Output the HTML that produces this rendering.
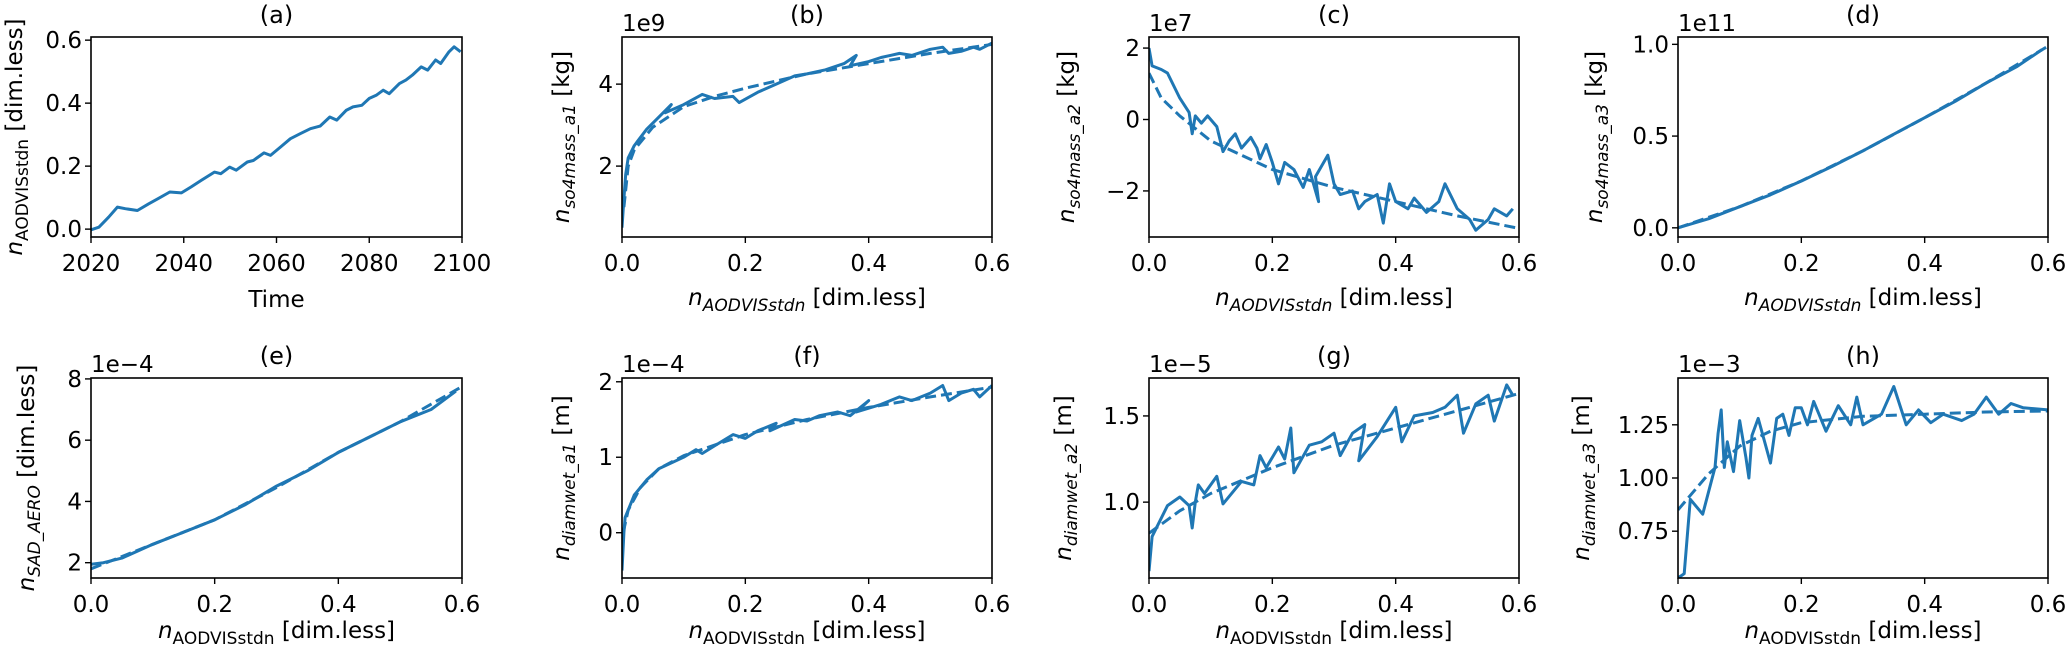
<!DOCTYPE html>
<html><head><meta charset="utf-8">
<style>
html,body{margin:0;padding:0;background:#fff;}
svg text{font-family:"DejaVu Sans","Liberation Sans",sans-serif;fill:#000;}
</style></head>
<body>
<svg id="fig" width="2067" height="652" viewBox="0 0 2067 652" xmlns="http://www.w3.org/2000/svg"></svg>
<script>
// ---------- DATA ----------
const aYears=[2020,2021.7,2023.8,2025.7,2027.4,2030,2032.4,2034.5,2037,2039.5,2041.6,2043.8,2046.6,2048,2049.9,2051.3,2053.7,2055,2057.3,2058.7,2060.9,2063,2065.1,2067.3,2069.4,2071.5,2073,2075,2076.5,2078.4,2080,2081.5,2083,2084.3,2086.5,2087.9,2089.3,2091.2,2092.6,2094.3,2095.4,2097.2,2098.3,2099.7];
const aVals=[-0.002,0.006,0.038,0.07,0.065,0.059,0.08,0.097,0.118,0.115,0.134,0.155,0.181,0.176,0.197,0.187,0.213,0.218,0.242,0.234,0.261,0.287,0.303,0.319,0.327,0.356,0.346,0.377,0.388,0.393,0.415,0.425,0.441,0.430,0.462,0.473,0.489,0.515,0.505,0.537,0.526,0.563,0.579,0.563];

const bSolidX=[0,0.003,0.006,0.01,0.02,0.04,0.06,0.08,0.07,0.1,0.13,0.15,0.18,0.19,0.22,0.25,0.28,0.3,0.33,0.36,0.38,0.37,0.4,0.42,0.45,0.47,0.5,0.52,0.53,0.55,0.57,0.58,0.6];
const bSolidY=[0.5,1.2,1.8,2.2,2.5,2.9,3.2,3.5,3.3,3.5,3.75,3.65,3.7,3.55,3.8,4.0,4.2,4.25,4.35,4.5,4.7,4.45,4.55,4.65,4.75,4.7,4.85,4.9,4.75,4.8,4.9,4.85,5.0];
const bFitX=[0.003,0.01,0.02,0.05,0.1,0.15,0.2,0.3,0.4,0.5,0.6];
const bFitY=[1.0,2.0,2.4,2.95,3.45,3.7,3.9,4.25,4.5,4.75,4.97];

const cSolidX=[0,0.005,0.02,0.03,0.05,0.065,0.07,0.075,0.085,0.095,0.11,0.12,0.13,0.14,0.15,0.165,0.175,0.18,0.19,0.2,0.21,0.22,0.235,0.25,0.26,0.275,0.27,0.29,0.3,0.31,0.33,0.34,0.35,0.37,0.38,0.39,0.4,0.42,0.43,0.45,0.47,0.48,0.5,0.52,0.53,0.55,0.56,0.58,0.59];
const cSolidY=[2.0,1.5,1.4,1.3,0.6,0.2,-0.4,0.1,-0.1,0.1,-0.2,-0.9,-0.6,-0.4,-0.8,-0.5,-0.8,-1.1,-0.7,-1.2,-1.8,-1.2,-1.4,-1.9,-1.4,-2.3,-1.6,-1.0,-1.8,-2.1,-2.0,-2.5,-2.3,-2.1,-2.9,-1.8,-2.3,-2.5,-2.2,-2.6,-2.3,-1.8,-2.5,-2.8,-3.1,-2.8,-2.5,-2.7,-2.5];
const cFitX=[0,0.02,0.05,0.1,0.15,0.2,0.3,0.4,0.5,0.6];
const cFitY=[1.3,0.6,0.1,-0.6,-1.0,-1.4,-1.9,-2.3,-2.7,-3.05];

const dSolidX=[0,0.05,0.1,0.15,0.2,0.25,0.3,0.35,0.4,0.45,0.5,0.55,0.59];
const dSolidY=[0,0.05,0.115,0.18,0.255,0.335,0.42,0.51,0.6,0.69,0.79,0.88,0.97];
const dFitX=[0,0.1,0.2,0.3,0.4,0.5,0.6];
const dFitY=[0,0.115,0.255,0.42,0.6,0.79,0.99];

const eSolidX=[0,0.02,0.05,0.1,0.15,0.2,0.25,0.3,0.35,0.4,0.45,0.5,0.55,0.59];
const eSolidY=[1.95,2.0,2.15,2.6,3.0,3.4,3.9,4.5,5.0,5.6,6.1,6.6,7.0,7.6];
const eFitX=[0,0.1,0.2,0.3,0.4,0.5,0.6];
const eFitY=[1.8,2.6,3.4,4.45,5.6,6.6,7.75];

const fSolidX=[0,0.003,0.005,0.02,0.04,0.06,0.1,0.12,0.13,0.15,0.18,0.2,0.22,0.25,0.24,0.28,0.3,0.32,0.35,0.37,0.4,0.38,0.42,0.45,0.47,0.5,0.52,0.53,0.55,0.57,0.58,0.6];
const fSolidY=[-0.5,0.0,0.2,0.5,0.7,0.85,1.0,1.1,1.05,1.15,1.3,1.25,1.35,1.45,1.35,1.5,1.48,1.55,1.6,1.55,1.75,1.6,1.7,1.8,1.75,1.85,1.95,1.75,1.85,1.9,1.8,1.95];
const fFitX=[0.002,0.01,0.03,0.06,0.1,0.2,0.3,0.4,0.5,0.6];
const fFitY=[0.0,0.3,0.6,0.85,1.02,1.3,1.5,1.66,1.8,1.93];

const gSolidX=[0,0.005,0.03,0.05,0.065,0.07,0.075,0.08,0.09,0.11,0.12,0.15,0.17,0.18,0.19,0.21,0.22,0.23,0.235,0.26,0.28,0.3,0.31,0.33,0.35,0.34,0.37,0.4,0.41,0.43,0.46,0.48,0.5,0.51,0.53,0.55,0.56,0.58,0.59];
const gSolidY=[0.6,0.8,0.98,1.03,0.98,0.85,1.0,1.1,1.05,1.15,0.99,1.12,1.1,1.27,1.2,1.32,1.25,1.43,1.17,1.33,1.35,1.4,1.27,1.4,1.45,1.24,1.38,1.55,1.35,1.5,1.52,1.55,1.62,1.4,1.57,1.62,1.47,1.68,1.62];
const gFitX=[0,0.05,0.1,0.2,0.3,0.4,0.5,0.6];
const gFitY=[0.82,0.95,1.05,1.2,1.33,1.43,1.53,1.63];

const hSolidX=[0,0.01,0.02,0.04,0.06,0.065,0.07,0.075,0.08,0.09,0.1,0.11,0.115,0.12,0.13,0.15,0.16,0.17,0.18,0.19,0.2,0.21,0.22,0.24,0.26,0.28,0.29,0.3,0.33,0.35,0.37,0.39,0.41,0.43,0.46,0.48,0.5,0.52,0.54,0.56,0.6];
const hSolidY=[0.53,0.55,0.9,0.83,1.05,1.21,1.32,1.05,1.17,1.03,1.27,1.1,1.0,1.2,1.28,1.07,1.28,1.3,1.2,1.33,1.33,1.25,1.36,1.22,1.34,1.25,1.38,1.25,1.3,1.43,1.25,1.32,1.26,1.3,1.27,1.3,1.38,1.3,1.35,1.33,1.32];
const hFitX=[0,0.05,0.1,0.15,0.2,0.3,0.4,0.5,0.6];
const hFitY=[0.85,1.02,1.15,1.22,1.26,1.29,1.3,1.31,1.315];

const xTicksN=[0,0.2,0.4,0.6];
const xTickLabelsN=["0.0","0.2","0.4","0.6"];
const xTicksA=[2020,2040,2060,2080,2100];
const xTickLabelsA=["2020","2040","2060","2080","2100"];
const yTicksA=[0,0.2,0.4,0.6]; const yTickLabelsA=["0.0","0.2","0.4","0.6"];
const yTicksB=[2,4]; const yTickLabelsB=["2","4"];
const yTicksC=[-2,0,2]; const yTickLabelsC=["\u22122","0","2"];
const yTicksD=[0,0.5,1.0]; const yTickLabelsD=["0.0","0.5","1.0"];
const yTicksE=[2,4,6,8]; const yTickLabelsE=["2","4","6","8"];
const yTicksF=[0,1,2]; const yTickLabelsF=["0","1","2"];
const yTicksG=[1.0,1.5]; const yTickLabelsG=["1.0","1.5"];
const yTicksH=[0.75,1.00,1.25]; const yTickLabelsH=["0.75","1.00","1.25"];

// ---------- LAYOUT ----------
const NS="http://www.w3.org/2000/svg";
const svg=document.getElementById('fig');
const C="#1f77b4";
function mk(tag,attrs,parent){const e=document.createElementNS(NS,tag);for(const k in attrs)e.setAttribute(k,attrs[k]);(parent||svg).appendChild(e);return e;}

const panels=[
 {id:'a',L:91,T:37,R:462,B:237,xmin:2020,xmax:2100,ymin:-0.025,ymax:0.61,xt:xTicksA,xtl:xTickLabelsA,yt:yTicksA,ytl:yTickLabelsA,off:'',ylx:14,ysub:'AODVISstdn',ysubIt:false,yunit:' [dim.less]',xlab:'time',xlo:70,series:[[aYears,aVals,false]]},
 {id:'b',L:622,T:37,R:992,B:237,xmin:0,xmax:0.6,ymin:0.27,ymax:5.15,xt:xTicksN,xtl:xTickLabelsN,yt:yTicksB,ytl:yTickLabelsB,off:'1e9',ylx:561,ysub:'so4mass_a1',ysubIt:true,yunit:' [kg]',xlab:'it',xlo:68,series:[[bSolidX,bSolidY,false],[bFitX,bFitY,true]]},
 {id:'c',L:1149,T:37,R:1519,B:237,xmin:0,xmax:0.6,ymin:-3.29,ymax:2.31,xt:xTicksN,xtl:xTickLabelsN,yt:yTicksC,ytl:yTickLabelsC,off:'1e7',ylx:1066,ysub:'so4mass_a2',ysubIt:true,yunit:' [kg]',xlab:'it',xlo:68,series:[[cSolidX,cSolidY,false],[cFitX,cFitY,true]]},
 {id:'d',L:1678,T:37,R:2048,B:237,xmin:0,xmax:0.6,ymin:-0.05,ymax:1.04,xt:xTicksN,xtl:xTickLabelsN,yt:yTicksD,ytl:yTickLabelsD,off:'1e11',ylx:1594,ysub:'so4mass_a3',ysubIt:true,yunit:' [kg]',xlab:'it',xlo:68,series:[[dSolidX,dSolidY,false],[dFitX,dFitY,true]]},
 {id:'e',L:91,T:378,R:462,B:578,xmin:0,xmax:0.6,ymin:1.5,ymax:8.03,xt:xTicksN,xtl:xTickLabelsN,yt:yTicksE,ytl:yTickLabelsE,off:'1e\u22124',ylx:26,ysub:'SAD_AERO',ysubIt:true,yunit:' [dim.less]',xlab:'up',xlo:60,series:[[eSolidX,eSolidY,false],[eFitX,eFitY,true]]},
 {id:'f',L:622,T:378,R:992,B:578,xmin:0,xmax:0.6,ymin:-0.6,ymax:2.05,xt:xTicksN,xtl:xTickLabelsN,yt:yTicksF,ytl:yTickLabelsF,off:'1e\u22124',ylx:561,ysub:'diamwet_a1',ysubIt:true,yunit:' [m]',xlab:'up',xlo:60,series:[[fSolidX,fSolidY,false],[fFitX,fFitY,true]]},
 {id:'g',L:1149,T:378,R:1519,B:578,xmin:0,xmax:0.6,ymin:0.56,ymax:1.72,xt:xTicksN,xtl:xTickLabelsN,yt:yTicksG,ytl:yTickLabelsG,off:'1e\u22125',ylx:1063,ysub:'diamwet_a2',ysubIt:true,yunit:' [m]',xlab:'up',xlo:60,series:[[gSolidX,gSolidY,false],[gFitX,gFitY,true]]},
 {id:'h',L:1678,T:378,R:2048,B:578,xmin:0,xmax:0.6,ymin:0.53,ymax:1.47,xt:xTicksN,xtl:xTickLabelsN,yt:yTicksH,ytl:yTickLabelsH,off:'1e\u22123',ylx:1581,ysub:'diamwet_a3',ysubIt:true,yunit:' [m]',xlab:'up',xlo:60,series:[[hSolidX,hSolidY,false],[hFitX,hFitY,true]]}
];

panels.forEach(p=>{
  const g=mk('g',{});
  
  
  const sx=v=>p.L+(v-p.xmin)/(p.xmax-p.xmin)*(p.R-p.L);
  const sy=v=>p.B-(v-p.ymin)/(p.ymax-p.ymin)*(p.B-p.T);
  const cp=mk('clipPath',{id:'clip-'+p.id},g);
  mk('rect',{x:p.L,y:p.T,width:p.R-p.L,height:p.B-p.T},cp);
  p.series.forEach((s,i)=>{
    const xs=s[0],ys=s[1];
    const d=xs.map((x,k)=>(k?'L':'M')+sx(x).toFixed(1)+','+sy(ys[k]).toFixed(1)).join('');
    const path=mk('path',{d:d,fill:'none',stroke:C,'stroke-width':3,'stroke-linejoin':'round','clip-path':'url(#clip-'+p.id+')'},g);
    if(s[2])path.setAttribute('stroke-dasharray','11,5');
    
    
  });
  const fr=mk('rect',{x:p.L,y:p.T,width:p.R-p.L,height:p.B-p.T,fill:'none',stroke:'#000','stroke-width':1.6},g);
  
  
  p.xt.forEach((v,k)=>{
    const x=sx(v);
    mk('line',{x1:x,x2:x,y1:p.B,y2:p.B+6,stroke:'#000','stroke-width':1.4},g);
    const t=mk('text',{x:x,y:p.B+34,'font-size':23,'text-anchor':'middle'},g);
    t.textContent=p.xtl[k];
    
    
  });
  p.yt.forEach((v,k)=>{
    const y=sy(v);
    mk('line',{x1:p.L-6,x2:p.L,y1:y,y2:y,stroke:'#000','stroke-width':1.4},g);
    const t=mk('text',{x:p.L-9,y:y+8,'font-size':23,'text-anchor':'end'},g);
    t.textContent=p.ytl[k];
    
    
  });
  const tt=mk('text',{x:(p.L+p.R)/2,y:p.T-14,'font-size':24,'text-anchor':'middle'},g);
  tt.textContent='('+p.id+')';
  
  
  if(p.off){
    const o=mk('text',{x:p.L,y:p.T-6,'font-size':23},g);
    o.textContent=p.off;
    
    
  }
  const xl=mk('text',{x:(p.L+p.R)/2,y:p.B+p.xlo,'font-size':23,'text-anchor':'middle'},g);
  
  
  if(p.xlab==='time'){xl.textContent='Time';}
  else{
    xl.innerHTML='<tspan font-style="italic">n</tspan><tspan font-size="17" dy="6"'+(p.xlab==='it'?' font-style="italic"':'')+'>AODVISstdn</tspan><tspan dy="-6"> [dim.less]</tspan>';
  }
  const cy=(p.T+p.B)/2;
  const yl=mk('text',{x:0,y:0,'font-size':23,'text-anchor':'middle',transform:'translate('+(p.ylx+8)+','+cy+') rotate(-90)'},g);
  
  
  yl.innerHTML='<tspan font-style="italic">n</tspan><tspan font-size="17" dy="6"'+(p.ysubIt?' font-style="italic"':'')+'>'+p.ysub+'</tspan><tspan dy="-6">'+p.yunit+'</tspan>';
});
</script>
</body></html>
